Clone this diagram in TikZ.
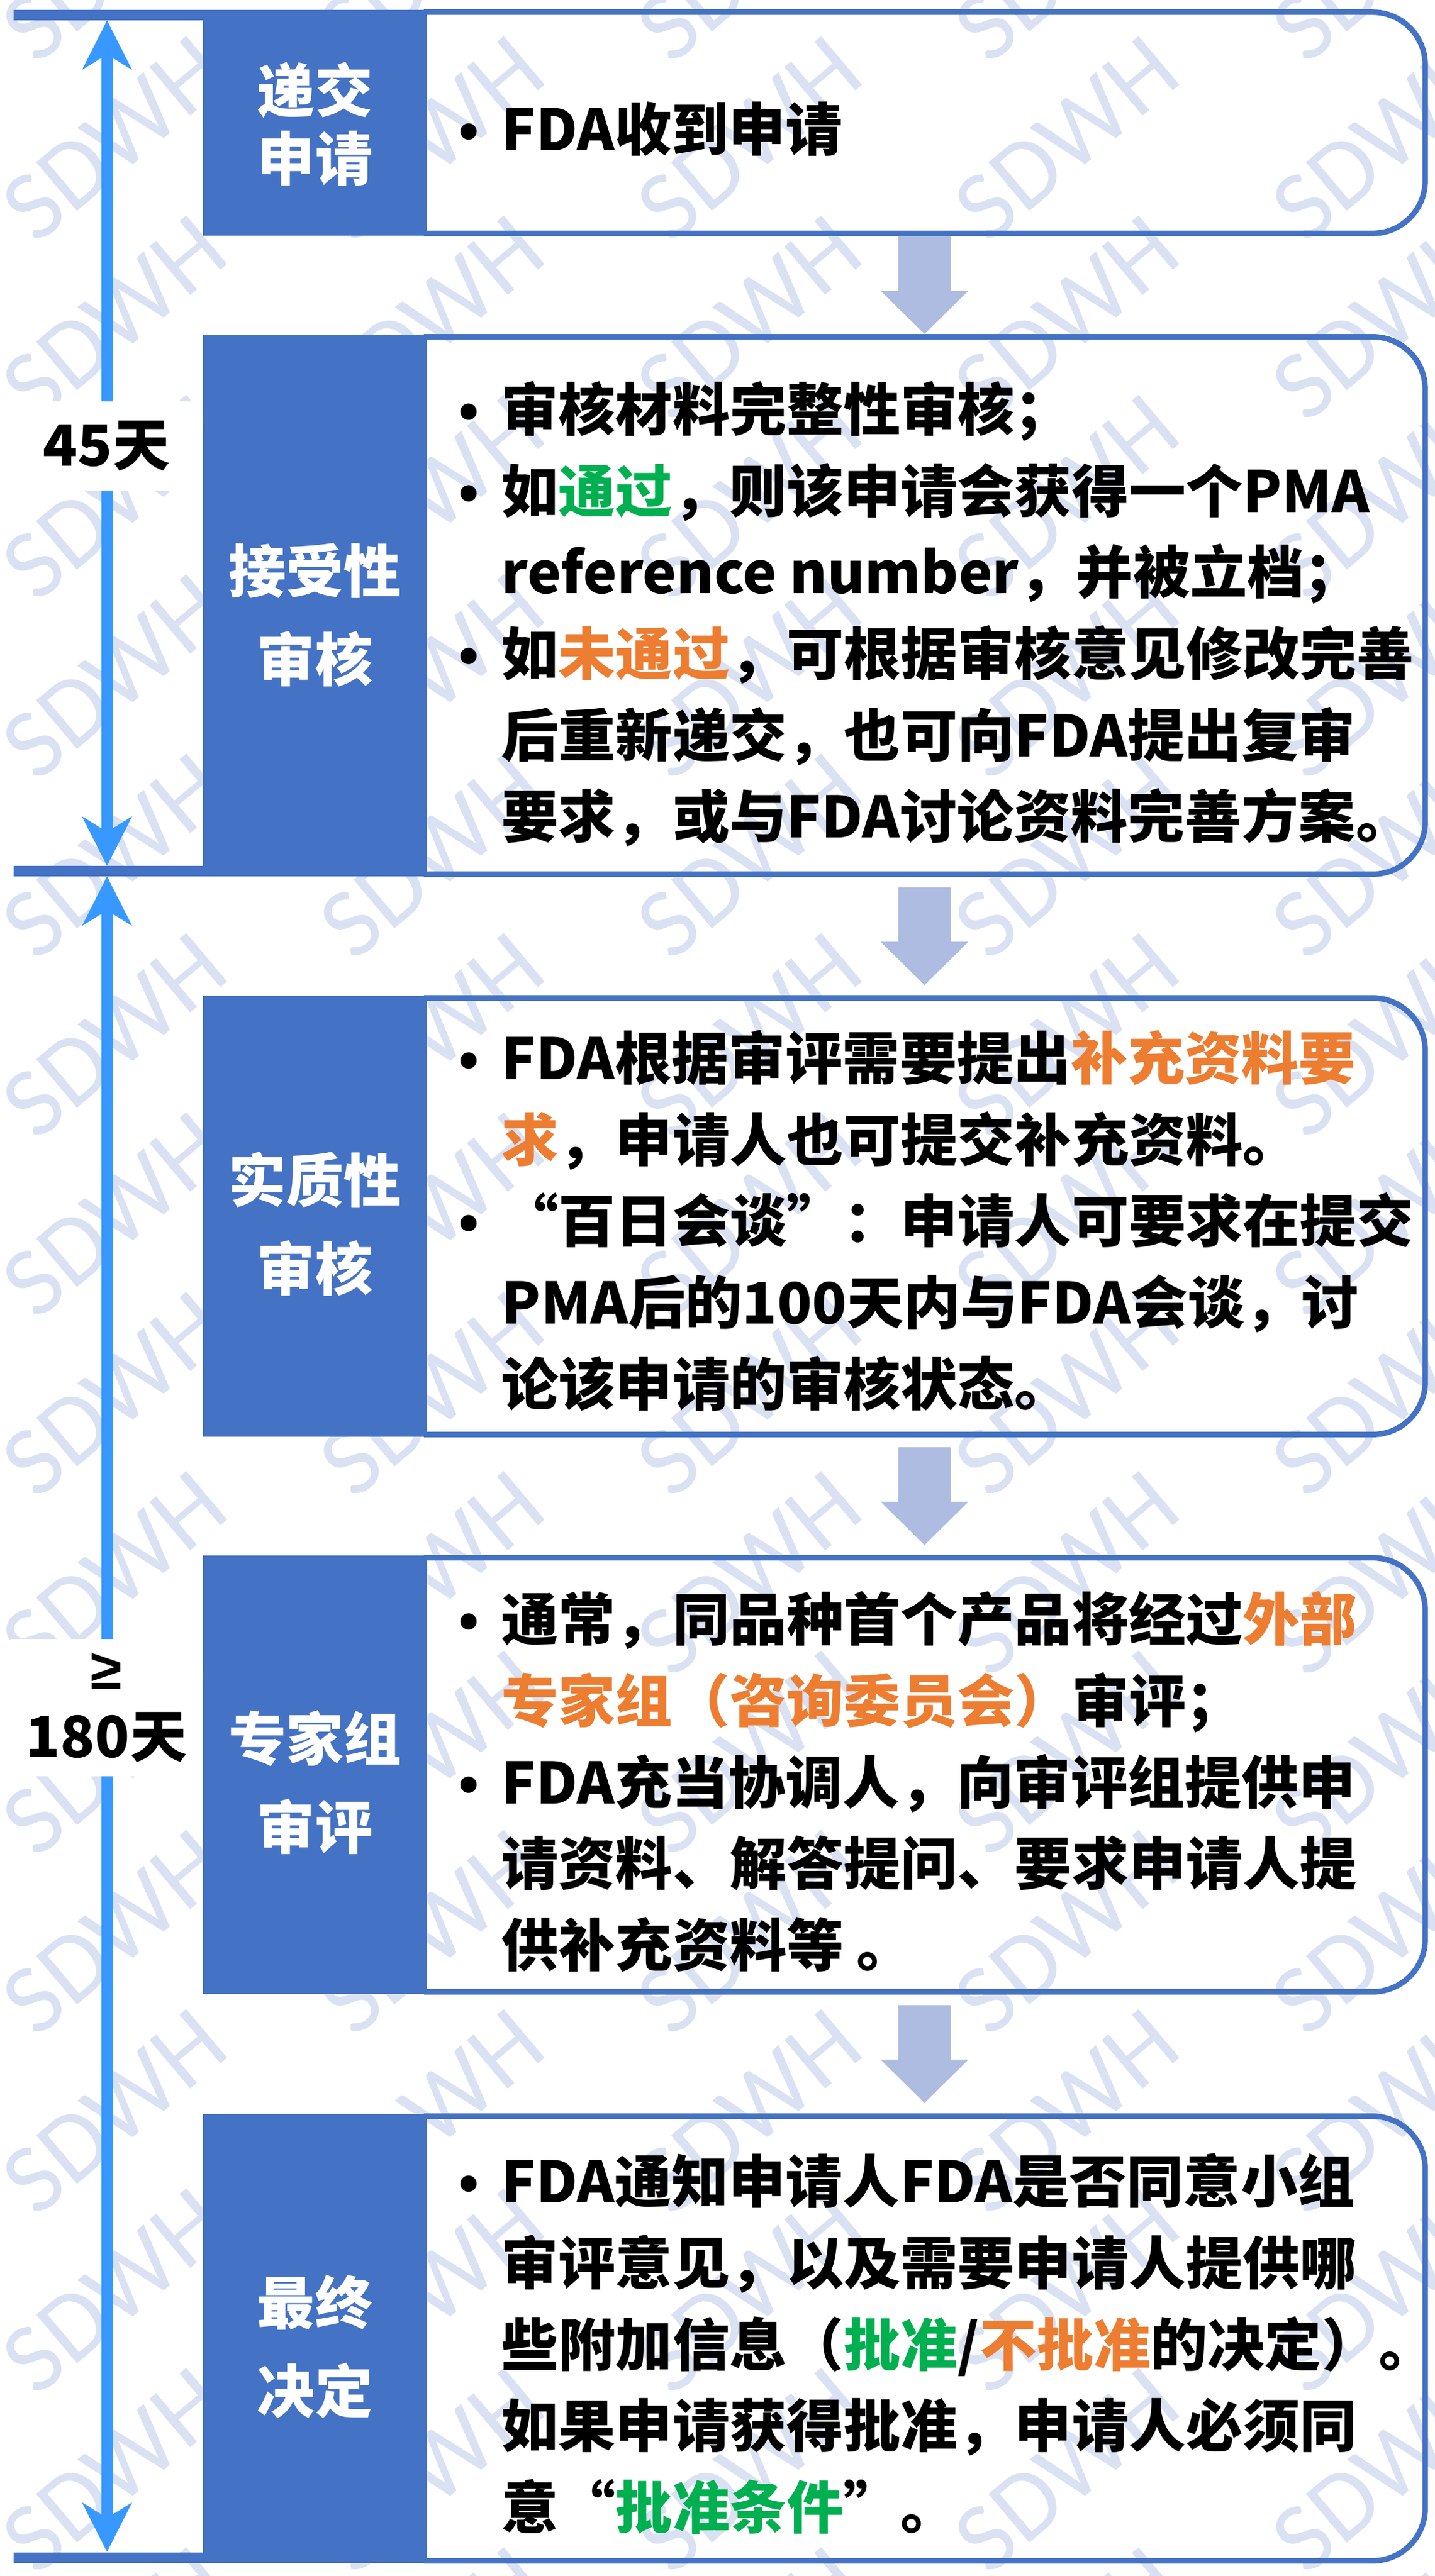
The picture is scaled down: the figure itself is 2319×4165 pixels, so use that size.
\documentclass[tikz,border=0pt]{standalone}
\usepackage{fontspec}
\setmainfont{Noto Sans CJK SC}
\newfontfamily\bulfont{Liberation Sans}
\newfontfamily\wmfont{Carlito}
\usetikzlibrary{arrows.meta,calc}
\definecolor{boxblue}{RGB}{68,114,196}
\definecolor{arrowcol}{RGB}{173,188,224}
\definecolor{tlblue}{RGB}{55,153,255}
\definecolor{okgreen}{RGB}{0,176,80}
\definecolor{warnorange}{RGB}{237,125,49}
\definecolor{wmcol}{RGB}{218,225,242}
\newcommand\bul{\llap{{\bulfont •}\hspace{0.37cm}}}
\newcommand\gr[1]{\textcolor{okgreen}{#1}}
\newcommand\og[1]{\textcolor{warnorange}{#1}}
\newcommand\blkarrow[2]{%
  \coordinate (m#1) at ($(#1.south)!0.5!(#2.north)$);
  \fill[darr] ($(m#1)+(-42.5,-79)$) -- ($(m#1)+(42.5,-79)$) -- ($(m#1)+(42.5,9)$)
    -- ($(m#1)+(71,9)$) -- ($(m#1)+(0,79)$) -- ($(m#1)+(-71,9)$) -- ($(m#1)+(-42.5,9)$) -- cycle;}
\begin{document}
\begin{tikzpicture}[x=0.01cm, y=-0.01cm,
  lbl/.style={fill=boxblue, inner sep=0, minimum width=3.62cm},
  lbltxt/.style={text=white, align=center, inner sep=0, font=\bfseries\fontsize{26.5}{40.7}\selectfont},
  cbox/.style={inner sep=0, minimum width=16.16cm},
  border/.style={draw=boxblue, line width=0.09cm, rounded corners=0.85cm},
  body/.style={anchor=base west, align=left, inner sep=0, font=\bfseries\fontsize{26.2}{37.4}\selectfont},
  bar/.style={draw=boxblue, line width=0.17cm},
  tline/.style={draw=tlblue, line width=0.17cm,
     {Stealth[length=0.8cm,width=0.81cm,inset=0.25cm,line width=0pt]}-{Stealth[length=0.8cm,width=0.81cm,inset=0.25cm,line width=0pt]}},
  daynum/.style={fill=white, inner sep=0, align=center, font=\bfseries\fontsize{26.2}{31.3}\selectfont, minimum width=3.1cm},
  darr/.style={fill=arrowcol},
  wm/.style={text=wmcol, font=\wmfont\fontsize{45.5}{50}\selectfont, rotate=40, inner sep=0}
]
\useasboundingbox (0,0) rectangle (2319,4165);
% watermark
\begin{scope}
\clip (0,0) rectangle (2319,4165);
\foreach \i in {-1,...,4}{\foreach \j in {-1,...,15}{
  \node[wm] (wm-\i-\j) at ({185+513*\i},{-66+290*\j}) {SDWH};}}
\end{scope}
% content boxes
\node[cbox, minimum height=3.56cm] (c1) at (1494,198.5) {};
\node[cbox, minimum height=8.67cm] (c2) at (1494,979) {};
\node[cbox, minimum height=7.04cm] (c3) at (1494,1966.5) {};
\node[cbox, minimum height=7.00cm] (c4) at (1494,2869.5) {};
\node[cbox, minimum height=7.17cm] (c5) at (1494,3781) {};
\foreach \c in {c1,c2,c3,c4,c5}{
  \draw[border] (\c.north west) -- (\c.north east) -- (\c.south east) -- (\c.south west);}
% label boxes
\node[lbl, minimum height=3.65cm] (l1) at (509,198.5) {};
\node[lbl, minimum height=8.76cm] (l2) at (509,979) {};
\node[lbl, minimum height=7.13cm] (l3) at (509,1966.5) {};
\node[lbl, minimum height=7.09cm] (l4) at (509,2869.5) {};
\node[lbl, minimum height=7.26cm] (l5) at (509,3781) {};
% bars
\coordinate (bt) at (22,24.5);
\coordinate (bm) at (22,1408.5);
\coordinate (bb) at (22,4135);
\draw[bar] (bt) -- ($(bt -| l1.west)+(3,0)$);
\draw[bar] (bm) -- ($(bm -| l2.west)+(3,0)$);
\draw[bar] (bb) -- ($(bb -| l5.west)+(3,0)$);
% label texts
\node[lbltxt, font=\bfseries\fontsize{26.5}{31.3}\selectfont] (lt1) at (509,200.5) {递交\\申请};
\node[lbltxt] (lt2) at (509,994.5) {接受性\\审核};
\node[lbltxt] (lt3) at (509,1979) {实质性\\审核};
\node[lbltxt] (lt4) at (509,2882) {专家组\\审评};
\node[lbltxt] (lt5) at (509,3794.5) {最终\\决定};
% body texts (anchored at the baseline of the last line)
\node[body] (b1) at (810,243) {\bul FDA收到申请};
\node[body] (b2) at (810,1354.5) {\bul 审核材料完整性审核；\\
\bul 如\gr{通过}，则该申请会获得一个PMA\\
reference number，并被立档；\\
\bul 如\og{未通过}，可根据审核意见修改完善\\
后重新递交，也可向FDA提出复审\\
要求，或与FDA讨论资料完善方案。};
\node[body] (b3) at (810,2272) {\bul FDA根据审评需要提出\og{补充资料要}\\
\og{求}，申请人也可提交补充资料。\\
\bul “百日会谈”：申请人可要求在提交\\
PMA后的100天内与FDA会谈，讨\\
论该申请的审核状态。};
\node[body] (b4) at (810,3179) {\bul 通常，同品种首个产品将经过\og{外部}\\
\og{专家组（咨询委员会）}审评；\\
\bul FDA充当协调人，向审评组提供申\\
请资料、解答提问、要求申请人提\\
供补充资料等 。};
\node[body] (b5) at (810,4088) {\bul FDA通知申请人FDA是否同意小组\\
审评意见，以及需要申请人提供哪\\
些附加信息（\gr{批准}/\og{不批准}的决定）。\\
如果申请获得批准，申请人必须同\\
意“\gr{批准条件}”。};
% block arrows
\blkarrow{c1}{c2}
\blkarrow{c2}{c3}
\blkarrow{c3}{c4}
\blkarrow{c4}{c5}
% timeline
\coordinate (a1t) at (173,33);
\coordinate (a1b) at (173,1400);
\coordinate (a2t) at (173,1417);
\coordinate (a2b) at (173,4126);
\draw[tline] (a1t) -- (a1b);
\draw[tline] (a2t) -- (a2b);
\node[daynum, minimum height=1.44cm] (d1) at (172,721) {45天};
\node[daynum, minimum height=2.21cm] (d2) at (172,2761) {{\bulfont ≥}\\180天};
\end{tikzpicture}
\end{document}
